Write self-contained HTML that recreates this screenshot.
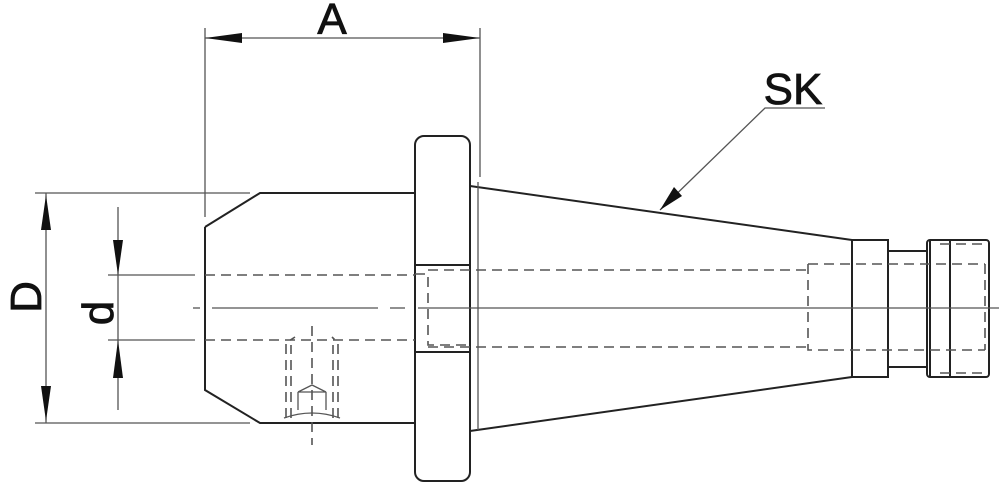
<!DOCTYPE html>
<html><head><style>body{margin:0;background:#fff}svg{display:block}</style></head><body>
<svg width="999" height="482" viewBox="0 0 999 482" xmlns="http://www.w3.org/2000/svg" font-family="Liberation Sans, DejaVu Sans, sans-serif">
<g stroke="#222" fill="none" stroke-width="2">
<path d="M205,227 L260,193 L415,193 M205,227 L205,390 L260,423 L415,423"/>
<rect x="415" y="136" width="55" height="345" rx="9"/>
<line x1="415" y1="265" x2="470" y2="265"/><line x1="415" y1="352" x2="470" y2="352"/>
<path d="M470,186 L852,240 M470,431 L852,377"/>
<rect x="852" y="240" width="36" height="137"/>
<rect x="888" y="251" width="39" height="116"/>
<rect x="927" y="240" width="62" height="137" rx="3"/>
<line x1="950" y1="240" x2="950" y2="377"/>
<line x1="930" y1="240" x2="930" y2="377"/>
</g>
<g stroke="#555" fill="none" stroke-width="1.3">
<line x1="205" y1="28" x2="205" y2="217"/>
<line x1="480" y1="28" x2="480" y2="177"/>
<line x1="478" y1="182" x2="478" y2="430"/>
<line x1="205" y1="38" x2="480" y2="38"/>
<line x1="35" y1="193" x2="250" y2="193"/>
<line x1="35" y1="423" x2="250" y2="423"/>
<line x1="46" y1="193" x2="46" y2="423"/>
<line x1="118" y1="207" x2="118" y2="410"/>
<line x1="108" y1="275" x2="195" y2="275"/>
<line x1="108" y1="340" x2="195" y2="340"/>
<path d="M660,210 L765,108 L825,108"/>
</g>
<g stroke="#555" fill="none" stroke-width="1.6" stroke-dasharray="10,6">
<line x1="205" y1="275" x2="415" y2="275"/>
<line x1="205" y1="340" x2="415" y2="340"/>
<path d="M415,274 L428,274 L428,345 L470,345"/>
<line x1="428" y1="270" x2="808" y2="270"/>
<line x1="428" y1="347" x2="808" y2="347"/>
<path d="M808,264 L808,350 L985,350 M808,264 L985,264 M985,264 L985,350"/>
<line x1="940" y1="244" x2="985" y2="244"/>
<line x1="940" y1="373" x2="985" y2="373"/>
<path d="M286,418 L286,343 L295,337 M338,418 L338,343 L332,337"/>
<path d="M291,418 L291,345 M333,418 L333,345"/>
<line x1="312" y1="326" x2="312" y2="445"/>
</g>
<g stroke="#555" fill="none" stroke-width="1.3">
<line x1="193" y1="308" x2="200" y2="308"/>
<line x1="212" y1="308" x2="378" y2="308"/>
<line x1="390" y1="308" x2="405" y2="308"/>
<line x1="418" y1="308" x2="999" y2="308"/>
<path d="M298,392 L312,385 L326,392 L298,392 M298,392 L298,410 M326,392 L326,410"/>
<path d="M284,418 Q312,408 340,418"/>
</g>
<g fill="#111">
<polygon points="205,38 242,33 242,43"/>
<polygon points="480,38 443,33 443,43"/>
<polygon points="46,195 41,230 51,230"/>
<polygon points="46,421 41,386 51,386"/>
<polygon points="118,275 113,240 123,240"/>
<polygon points="118,340 113,378 123,378"/>
<polygon points="660,210 674,187 682,196"/>
</g>
<g fill="#111" font-size="44" stroke="#111" stroke-width="0.8">
<text x="332" y="34" text-anchor="middle">A</text>
<text x="793" y="104" text-anchor="middle">SK</text>
<text transform="translate(41,297) rotate(-90)" text-anchor="middle">D</text>
<text transform="translate(113,313) rotate(-90)" text-anchor="middle">d</text>
</g>
</svg>
</body></html>
